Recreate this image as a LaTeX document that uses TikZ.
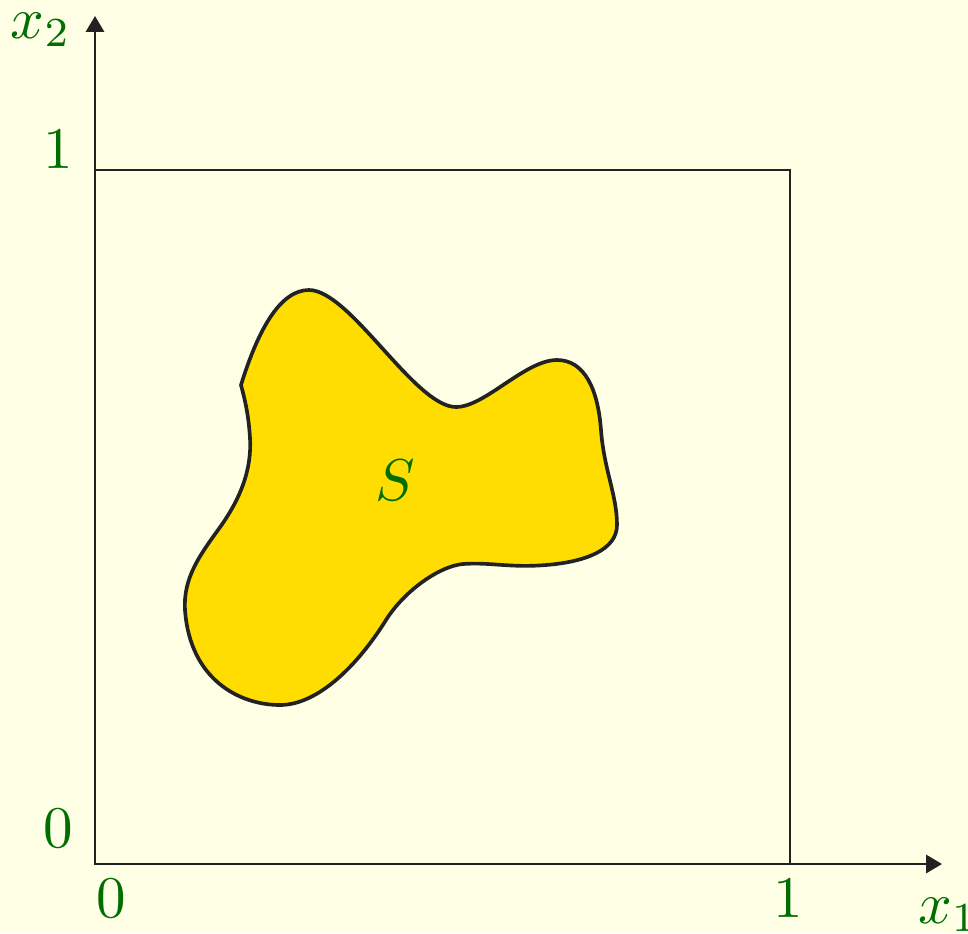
\documentclass[tikz,border=0pt]{standalone}
\usetikzlibrary{arrows.meta}
\definecolor{bgcol}{HTML}{FFFFE6}
\definecolor{lblgreen}{HTML}{006E00}
\definecolor{blobfill}{HTML}{FFDD00}
\definecolor{linecol}{HTML}{222222}
\begin{document}
\begin{tikzpicture}[x=0.1695pt,y=-0.1695pt,
  lbl/.style={text=lblgreen,inner sep=0pt,anchor=base},
  axis/.style={draw=linecol,line width=0.4pt,-{Triangle[length=2.7pt,width=3.1pt]}},
  frame/.style={draw=linecol,line width=0.4pt},
  blob/.style={draw=linecol,fill=blobfill,line width=0.62pt,line join=round}]
\fill[bgcol] (0,0) rectangle (968,933);
\useasboundingbox (0,0) rectangle (968,933);
\coordinate (O) at (95,864);
\coordinate (xend) at (942,864);
\coordinate (yend) at (95,16);
\coordinate (sq) at (790,170);
% blob
\path[blob] (241,385)
  .. controls (258,330) and (280,290) .. (309,290)
  .. controls (350,290) and (415,407) .. (456,407)
  .. controls (485,407) and (525,360) .. (557,360)
  .. controls (585,360) and (598,390) .. (601,430)
  .. controls (604,470) and (617,495) .. (617,525)
  .. controls (617,550) and (585,562) .. (546,565)
  .. controls (510,568) and (490,562) .. (463,564)
  .. controls (440,566) and (405,590) .. (386,620)
  .. controls (358,665) and (318,705) .. (280,705)
  .. controls (240,705) and (190,680) .. (185,610)
  .. controls (183,578) and (200,555) .. (218,530)
  .. controls (240,500) and (252,470) .. (250,438)
  .. controls (248.6,415) and (245,400) .. (241,385) -- cycle;
% square
\draw[frame] (O) rectangle (sq);
% axes
\draw[axis] (O) -- (xend);
\draw[axis] (O) -- (yend);
% labels
\node[lbl] (lx2) at (41,38) {$x_2$};
\node[lbl] (ly1) at (58,168) {$1$};
\node[lbl] (ly0) at (58,847) {$0$};
\node[lbl] (lx0) at (111,917) {$0$};
\node[lbl] (lx1n) at (788,917) {$1$};
\node[lbl,anchor=base west] (lx1) at (917,923) {$x_1$};
\node[lbl] (lS) at (395,500) {$S$};
\end{tikzpicture}
\end{document}
